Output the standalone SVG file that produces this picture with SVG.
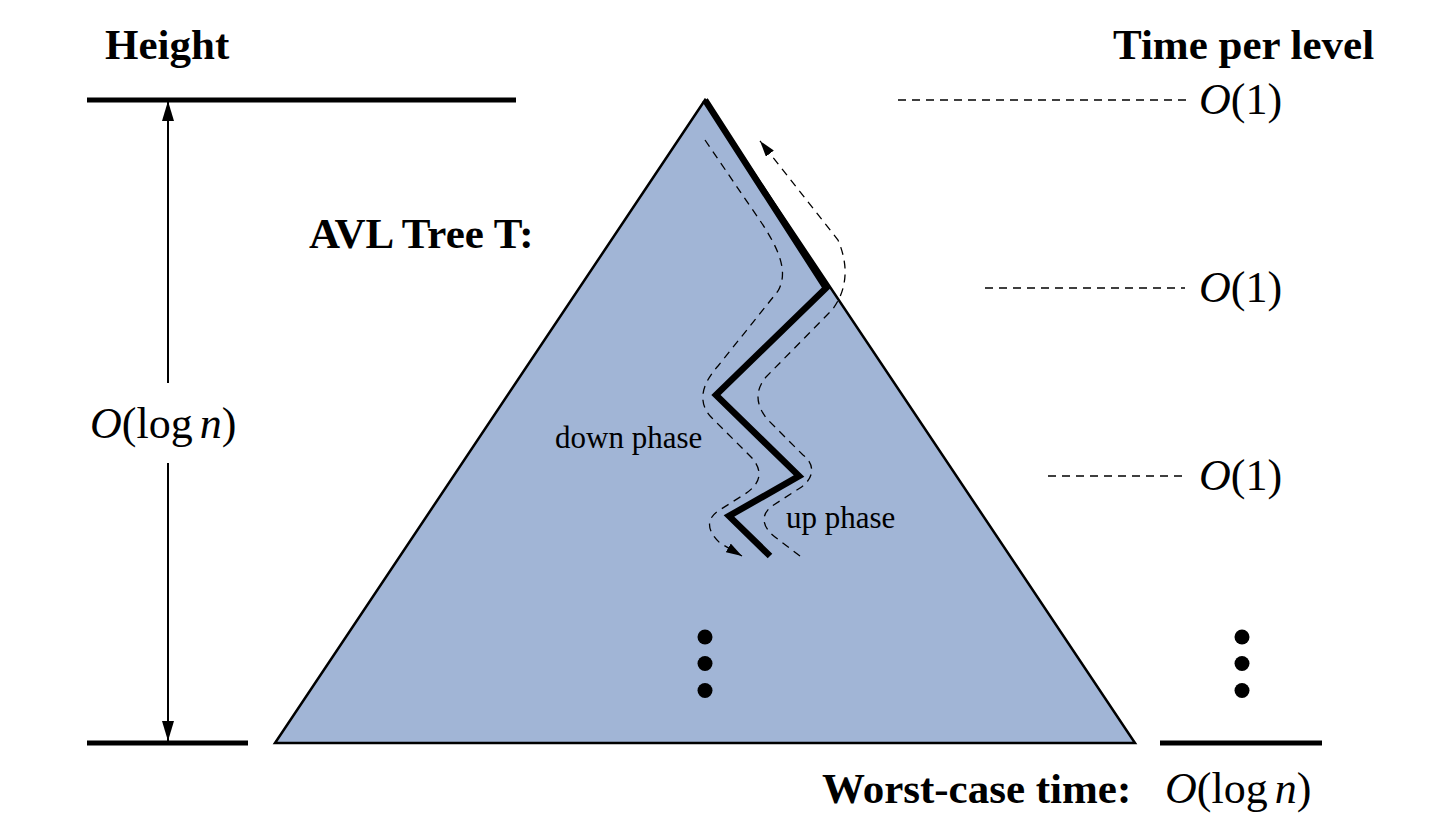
<svg xmlns="http://www.w3.org/2000/svg" width="1448" height="826" viewBox="0 0 1448 826">
<style>
text{font-family:"Liberation Serif","Times New Roman",serif;fill:#000}
.h{font-weight:bold;font-size:43px}
.m{font-size:44px}
.i{font-style:italic}
.s{font-size:31px}
.thick{stroke:#000;stroke-width:5;fill:none}
.dash{stroke:#000;stroke-width:1.3;fill:none;stroke-dasharray:8 6}
.path{stroke:#000;stroke-width:6.5;fill:none;stroke-linejoin:miter;stroke-miterlimit:10}
</style>
<defs>
<marker id="ah" viewBox="0 0 20 12" refX="20" refY="6" markerWidth="20" markerHeight="12" markerUnits="userSpaceOnUse" orient="auto">
<path d="M0,0 L20,6 L0,12 z" fill="#000"/>
</marker>
<marker id="ad" viewBox="0 0 16 10" refX="16" refY="5" markerWidth="16" markerHeight="10" markerUnits="userSpaceOnUse" orient="auto">
<path d="M0,0 L16,5 L0,10 z" fill="#000"/>
</marker>
</defs>
<g id="tree">
<polygon points="705,100 275,743 1135,743" fill="#A1B5D6" stroke="#000" stroke-width="2.5" stroke-linejoin="miter"/>
<polyline class="path" points="705,100 826,288 716,395 799,476 729,516 770,556"/>
<circle cx="705" cy="637" r="7.5"/>
<circle cx="705" cy="663.5" r="7.5"/>
<circle cx="705" cy="690.5" r="7.5"/>
</g>
<g id="connectors">
<path class="dash" d="M705,140 L750,206 C774,240 791,268 778,291 L718,366 C700,386 698,404 712,418 L752,458 C764,472 760,484 745,494 L718,511 C705,520 708,532 720,543 L742,556" marker-end="url(#ad)"/>
<path class="dash" d="M800,556 L775,537 C762,527 760,515 772,506 L800,488 C815,478 815,464 803,455 L768,420 C755,405 755,390 766,377 L832,310 C846,292 850,268 838,240 L760,141" marker-end="url(#ad)"/>
<line class="dash" x1="898" y1="100" x2="1188" y2="100"/>
<line class="dash" x1="985" y1="288" x2="1185" y2="288"/>
<line class="dash" x1="1048" y1="476" x2="1185" y2="476"/>
<line x1="168" y1="383" x2="168" y2="101" stroke="#000" stroke-width="2" marker-end="url(#ah)"/>
<line x1="168" y1="463" x2="168" y2="741" stroke="#000" stroke-width="2" marker-end="url(#ah)"/>
</g>
<g id="height-axis">
<line class="thick" x1="87" y1="100" x2="516" y2="100"/>
<line class="thick" x1="87" y1="743" x2="248" y2="743"/>
<text class="h" x="105" y="59">Height</text>
<text class="m" x="90" y="438" font-size="46"><tspan class="i">O</tspan>(log<tspan class="i" dx="7">n</tspan>)</text>
</g>
<g id="time-axis">
<text class="h" x="1113" y="59">Time per level</text>
<text class="m" x="1199" y="114"><tspan class="i">O</tspan>(1)</text>
<text class="m" x="1199" y="302"><tspan class="i">O</tspan>(1)</text>
<text class="m" x="1199" y="490"><tspan class="i">O</tspan>(1)</text>
<circle cx="1242" cy="637" r="7.5"/>
<circle cx="1242" cy="663.5" r="7.5"/>
<circle cx="1242" cy="690.5" r="7.5"/>
<line class="thick" x1="1160" y1="743" x2="1322" y2="743"/>
</g>
<g id="labels">
<text class="h" x="309" y="248" font-size="44.5">AVL Tree T:</text>
<text class="s" x="555" y="448">down phase</text>
<text class="s" x="786" y="528">up phase</text>
<text class="h" x="822" y="803">Worst-case time:</text>
<text class="m" x="1165" y="803" font-size="45"><tspan class="i">O</tspan>(log<tspan class="i" dx="7">n</tspan>)</text>
</g>
</svg>
